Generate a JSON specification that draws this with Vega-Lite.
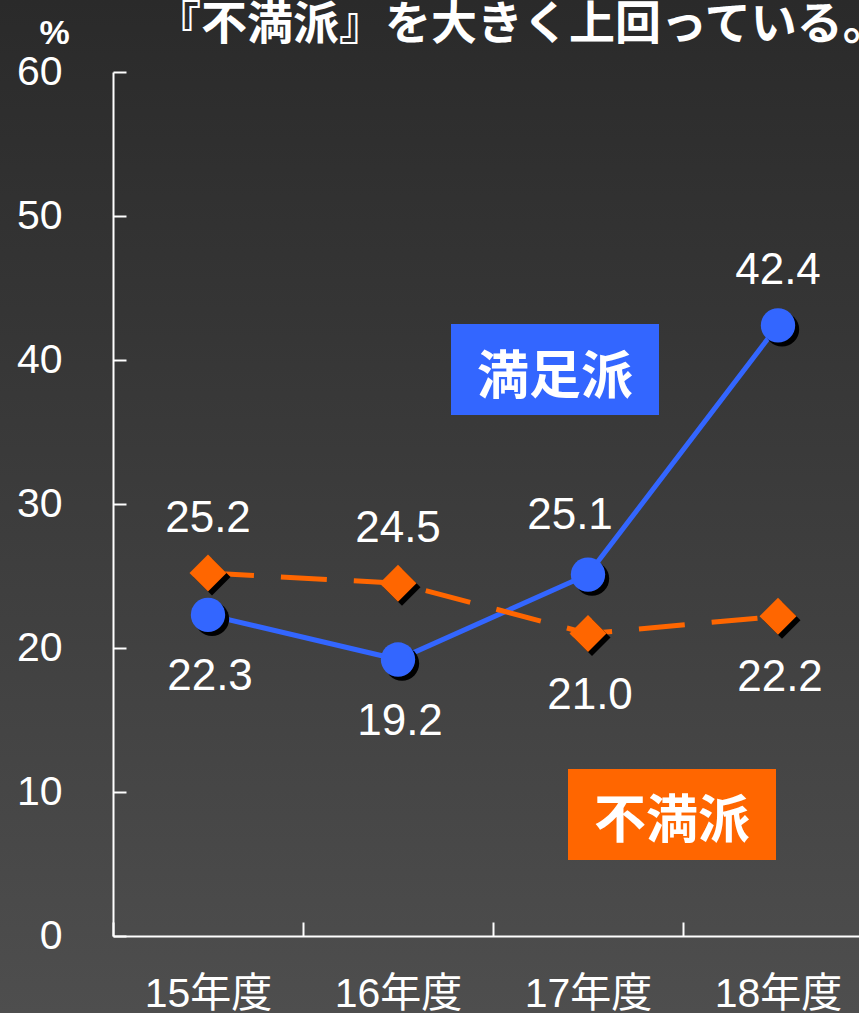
{
  "$schema": "https://vega.github.io/schema/vega-lite/v6.json",
  "width": 859,
  "height": 1013,
  "padding": 0,
  "autosize": {"type": "none"},
  "background": "#3c3c3c",
  "view": {
    "stroke": null,
    "fill": {"gradient": "linear", "x1": 0, "y1": 0, "x2": 0, "y2": 1,
      "stops": [{"offset": 0, "color": "#2a2a2a"}, {"offset": 1, "color": "#4e4e4e"}]}
  },
  "title": {
    "text": "『不満派』を大きく上回っている。",
    "anchor": "start",
    "frame": "group",
    "font": "Noto Sans CJK JP",
    "fontSize": 46,
    "fontWeight": "bold",
    "color": "#ffffff",
    "baseline": "alphabetic",
    "offset": -85,
    "dx": 155,
    "zindex": 10
  },
  "config": {
    "axis": {
      "domainColor": "#ffffff",
      "domainWidth": 2,
      "tickColor": "#ffffff",
      "tickWidth": 2,
      "labelColor": "#ffffff",
      "grid": false
    }
  },
  "datasets": {
    "main": [
      {"year": "15年度", "series": "満足派", "value": 22.3},
      {"year": "16年度", "series": "満足派", "value": 19.2},
      {"year": "17年度", "series": "満足派", "value": 25.1},
      {"year": "18年度", "series": "満足派", "value": 42.4},
      {"year": "15年度", "series": "不満派", "value": 25.2},
      {"year": "16年度", "series": "不満派", "value": 24.5},
      {"year": "17年度", "series": "不満派", "value": 21.0},
      {"year": "18年度", "series": "不満派", "value": 22.2}
    ],
    "notes": [
      {"year": "17年度", "value": 39.34, "label": "満足派"},
      {"year": "17年度", "value": 8.44, "label": "不満派"}
    ]
  },
  "data": {"name": "main"},
  "encoding": {
    "x": {
      "field": "year",
      "type": "nominal",
      "sort": ["15年度", "16年度", "17年度", "18年度"],
      "scale": {"type": "band", "domain": ["15年度", "16年度", "17年度", "18年度"], "range": [113, 873], "paddingInner": 0, "paddingOuter": 0},
      "axis": {
        "title": null,
        "offset": -77,
        "tickBand": "extent",
        "tickSize": -14,
        "labelAngle": 0,
        "labelPadding": 84,
        "labelBaseline": "alphabetic",
        "labelFont": "Liberation Sans, Noto Sans CJK JP",
        "labelFontSize": 41,
        "labelOverlap": false
      }
    },
    "y": {
      "field": "value",
      "type": "quantitative",
      "scale": {"domain": [0, 60], "range": [936, 72], "nice": false},
      "axis": {
        "offset": -113,
        "values": [0, 10, 20, 30, 40, 50, 60],
        "tickSize": -13,
        "labelPadding": 64,
        "labelFont": "Liberation Sans",
        "labelFontSize": 41,
        "title": "%",
        "titleAngle": 0,
        "titleX": -59,
        "titleY": 43,
        "titleAlign": "center",
        "titleBaseline": "alphabetic",
        "titleFont": "Liberation Sans",
        "titleFontSize": 34,
        "titleFontWeight": "bold",
        "titleColor": "#ffffff"
      }
    }
  },
  "layer": [
    {
      "transform": [{"filter": "datum.series == '満足派'"}],
      "mark": {"type": "line", "color": "#3366ff", "strokeWidth": 5}
    },
    {
      "transform": [{"filter": "datum.series == '不満派'"}],
      "mark": {"type": "line", "color": "#ff6600", "strokeWidth": 5, "strokeDash": [46, 27]}
    },
    {
      "transform": [{"filter": "datum.series == '満足派'"}],
      "mark": {"type": "point", "filled": true, "shape": "circle", "size": 1180, "color": "#000000", "opacity": 1, "xOffset": 4, "yOffset": 4}
    },
    {
      "transform": [{"filter": "datum.series == '満足派'"}],
      "mark": {"type": "point", "filled": true, "shape": "circle", "size": 1180, "color": "#3366ff", "opacity": 1}
    },
    {
      "transform": [{"filter": "datum.series == '不満派'"}],
      "mark": {"type": "point", "filled": true, "shape": "diamond", "size": 1369, "color": "#000000", "opacity": 1, "xOffset": 4, "yOffset": 4}
    },
    {
      "transform": [{"filter": "datum.series == '不満派'"}],
      "mark": {"type": "point", "filled": true, "shape": "diamond", "size": 1369, "color": "#ff6600", "opacity": 1}
    },
    {
      "transform": [{"filter": "(datum.series == '不満派' && (datum.year == '15年度' || datum.year == '16年度')) || (datum.series == '満足派' && datum.year == '18年度')"}],
      "mark": {"type": "text", "font": "Liberation Sans", "fontSize": 44, "color": "#ffffff", "baseline": "alphabetic", "align": "center", "dy": -41},
      "encoding": {"text": {"field": "value", "type": "quantitative", "format": ".1f"}}
    },
    {
      "transform": [{"filter": "(datum.series == '満足派' && (datum.year == '15年度' || datum.year == '16年度')) || (datum.series == '不満派' && (datum.year == '17年度' || datum.year == '18年度'))"}],
      "mark": {"type": "text", "font": "Liberation Sans", "fontSize": 44, "color": "#ffffff", "baseline": "alphabetic", "align": "center", "dy": 75, "dx": 2},
      "encoding": {"text": {"field": "value", "type": "quantitative", "format": ".1f"}}
    },
    {
      "transform": [{"filter": "datum.series == '満足派' && datum.year == '17年度'"}],
      "mark": {"type": "text", "font": "Liberation Sans", "fontSize": 44, "color": "#ffffff", "baseline": "alphabetic", "align": "center", "dy": -46, "dx": -18},
      "encoding": {"text": {"field": "value", "type": "quantitative", "format": ".1f"}}
    },
    {
      "data": {"name": "notes"},
      "transform": [{"filter": "datum.label == '満足派'"}],
      "mark": {"type": "point", "filled": true, "shape": "M-1,-0.4375L1,-0.4375L1,0.4375L-1,0.4375Z", "size": 43264, "color": "#3366ff", "opacity": 1, "xOffset": -33}
    },
    {
      "data": {"name": "notes"},
      "transform": [{"filter": "datum.label == '満足派'"}],
      "mark": {"type": "text", "font": "Noto Sans CJK JP", "fontSize": 52, "fontWeight": "bold", "color": "#ffffff", "align": "center", "baseline": "middle", "dx": -33, "dy": 8},
      "encoding": {"text": {"field": "label", "type": "nominal"}}
    },
    {
      "data": {"name": "notes"},
      "transform": [{"filter": "datum.label == '不満派'"}],
      "mark": {"type": "point", "filled": true, "shape": "M-1,-0.4375L1,-0.4375L1,0.4375L-1,0.4375Z", "size": 43264, "color": "#ff6600", "opacity": 1, "xOffset": 84}
    },
    {
      "data": {"name": "notes"},
      "transform": [{"filter": "datum.label == '不満派'"}],
      "mark": {"type": "text", "font": "Noto Sans CJK JP", "fontSize": 52, "fontWeight": "bold", "color": "#ffffff", "align": "center", "baseline": "middle", "dx": 84, "dy": 8},
      "encoding": {"text": {"field": "label", "type": "nominal"}}
    }
  ]
}
